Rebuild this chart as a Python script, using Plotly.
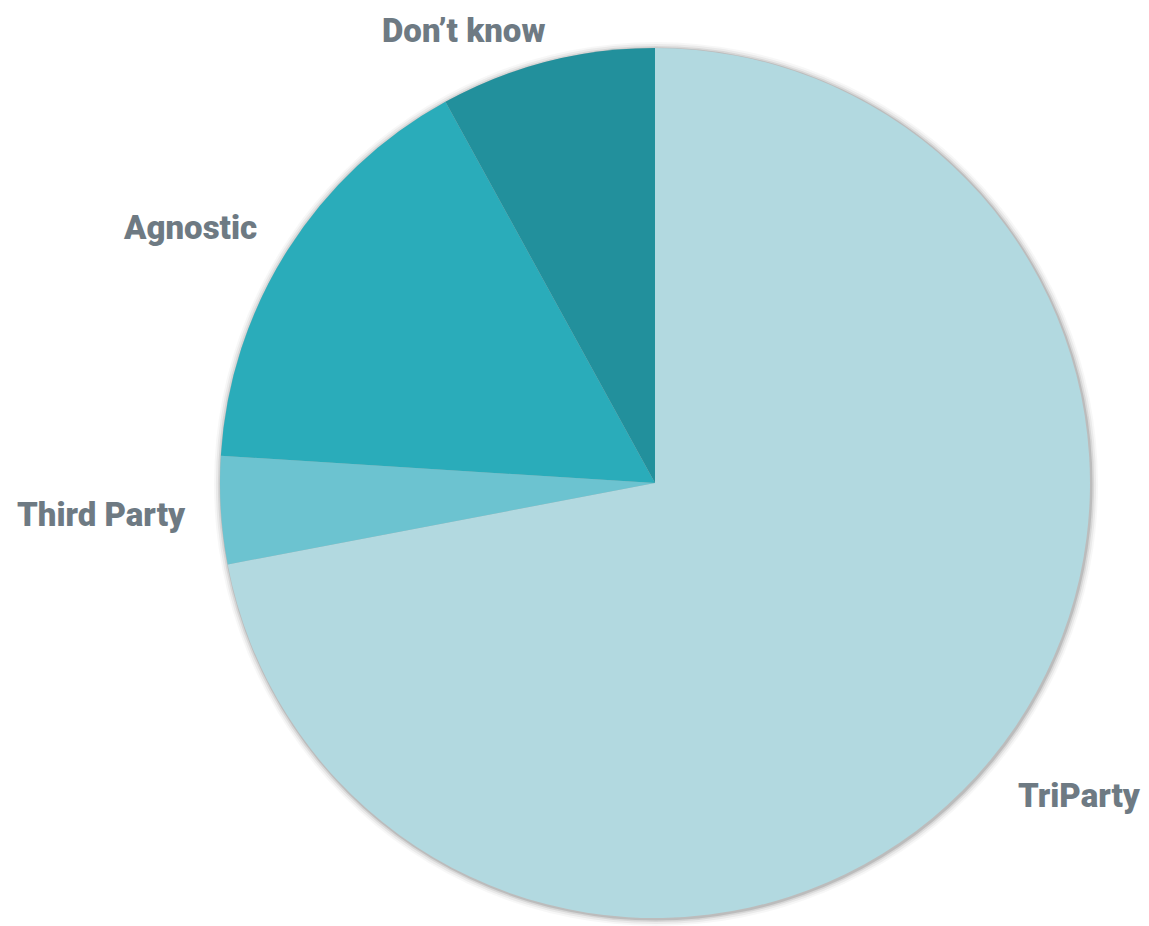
import plotly.graph_objects as go

categories = ["TriParty", "Third Party", "Agnostic", "Don\u2019t know"]
values = [72, 4, 16, 8]
colors = ["#B2D9E0", "#6CC3D0", "#2AACBA", "#22909C"]

# label anchor positions in pixels (x, y from top)
label_px = [(1079, 795), (101, 515), (190, 227), (463, 30)]

W, H = 1149, 926
OFF = 8  # page body margin
cx, cy, r = 655 - OFF, 483 - OFF, 435

def dom(rad, dx=0, dy=0):
    return dict(x=[(cx + dx - rad) / W, (cx + dx + rad) / W],
                y=[1 - (cy + dy + rad) / H, 1 - (cy + dy - rad) / H])

fig = go.Figure()
# soft shadow layers
for extra, alpha in [(7, 0.03), (5, 0.05), (3, 0.08), (1.5, 0.12)]:
    fig.add_trace(go.Pie(values=[1], labels=["shadow"], domain=dom(r + extra, 1, 1),
                         marker=dict(colors=[f"rgba(0,0,0,{alpha})"]),
                         textinfo="none", hoverinfo="skip", showlegend=False, sort=False))

fig.add_trace(go.Pie(
    labels=categories, values=values, sort=False, direction="clockwise", rotation=0,
    marker=dict(colors=colors, line=dict(width=0)),
    textinfo="none", showlegend=False, domain=dom(r),
))

for name, (px, py) in zip(categories, label_px):
    fig.add_annotation(x=(px - OFF) / W, y=1 - (py - OFF) / H, xref="paper", yref="paper",
                       text=name, showarrow=False, borderpad=0,
                       font=dict(family="Roboto", size=33, color="#6E7A83", weight=900),
                       xanchor="center", yanchor="middle")

fig.update_layout(width=W, height=H, margin=dict(l=0, r=0, t=0, b=0),
                  paper_bgcolor="white", plot_bgcolor="white")
fig.write_html("out.html")
